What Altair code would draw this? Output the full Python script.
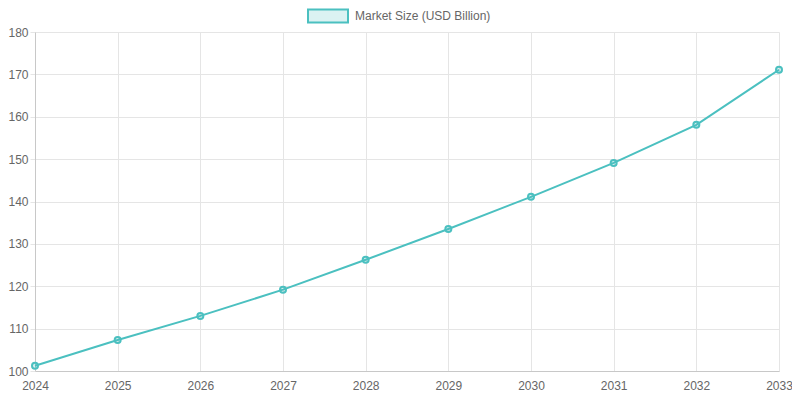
import altair as alt
import pandas as pd

years = [2024, 2025, 2026, 2027, 2028, 2029, 2030, 2031, 2032, 2033]
market_size = [101.25, 107.3, 113.0, 119.2, 126.25, 133.5, 141.1, 149.1, 158.1, 171.1]
series_name = "Market Size (USD Billion)"
y_ticks = [100, 110, 120, 130, 140, 150, 160, 170, 180]

df = pd.DataFrame({"year": years, "value": market_size, "series": [series_name] * len(years)})

TEAL = "#4bc0c0"
FONT = "Liberation Sans"

base = alt.Chart(df).encode(
    x=alt.X("year:Q",
            scale=alt.Scale(domain=[2024, 2033], nice=False, zero=False),
            axis=alt.Axis(values=years, format="d", title=None, ticks=False,
                          labelPadding=9, grid=True, domain=True,
                          labelFlush=False, labelOverlap=False, labelBound=False)),
    y=alt.Y("value:Q",
            scale=alt.Scale(domain=[100, 180], nice=False, zero=False),
            axis=alt.Axis(values=y_ticks, title=None, ticks=True, tickSize=5,
                          labelPadding=2, grid=True, domain=True,
                          labelFlush=False, labelOverlap=False, labelBound=False)),
)

line = base.mark_line(strokeWidth=2).encode(
    color=alt.Color("series:N",
                    scale=alt.Scale(range=[TEAL]),
                    legend=alt.Legend(
                        title=None, orient="none", legendX=272, legendY=-37,
                        direction="horizontal", padding=0,
                        symbolType="M-1,-0.325L1,-0.325L1,0.325L-1,0.325Z",
                        symbolSize=1600, symbolStrokeWidth=2,
                        symbolFillColor="rgba(75,192,192,0.2)",
                        symbolStrokeColor=TEAL, symbolOpacity=1,
                        labelFont=FONT, labelFontSize=12, labelColor="#666",
                        labelOffset=6)),
)

points = base.mark_point(shape="circle", filled=False, size=36, strokeWidth=2,
                         fill="rgba(75,192,192,0.2)", stroke=TEAL, opacity=1)

chart = alt.layer(line, points).properties(
    width=744, height=339,
    padding={"left": 27, "top": 24, "right": 13, "bottom": 21},
    autosize=alt.AutoSizeParams(type="none"),
).configure_view(stroke=None).configure_axis(
    gridColor="#e5e5e5", domainColor="#c8c8c8", tickColor="#e5e5e5",
    labelFont=FONT, labelFontSize=12, labelColor="#666",
)

chart.save("out.html", embed_options={"renderer": "svg", "actions": False})
